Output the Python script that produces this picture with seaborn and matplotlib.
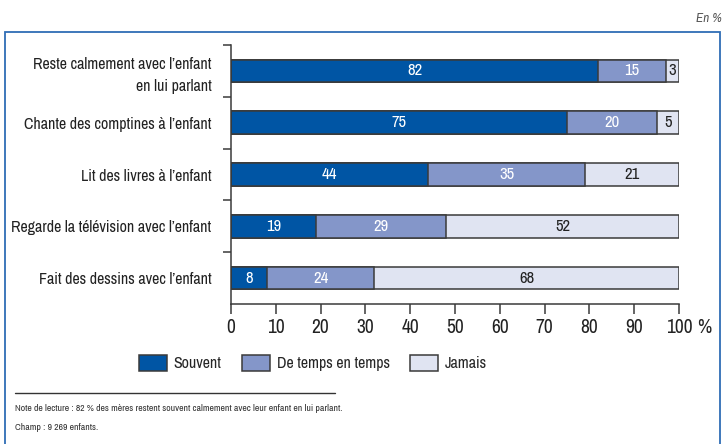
import matplotlib
matplotlib.use("Agg")
import matplotlib.pyplot as plt
from matplotlib import font_manager
import seaborn as sns
import pandas as pd
import numpy as np
from matplotlib.patches import Rectangle
from matplotlib.lines import Line2D

categories = ["Reste calmement avec l’enfant\nen lui parlant",
              "Chante des comptines à l’enfant",
              "Lit des livres à l’enfant",
              "Regarde la télévision avec l’enfant",
              "Fait des dessins avec l’enfant"]
souvent = [82, 75, 44, 19, 8]
de_temps = [15, 20, 35, 29, 24]
jamais = [3, 5, 21, 52, 68]
series_names = ["Souvent", "De temps en temps", "Jamais"]
colors = ["#0055a4", "#8496c9", "#e0e4f2"]
text_colors = ["white", "white", "#222222"]
xticks = [0, 10, 20, 30, 40, 50, 60, 70, 80, 90, 100]

sns.set_theme(style="white")

# pick a narrow font if one exists
narrow_family = None
narrow_stretch = None
found = []
for f in font_manager.fontManager.ttflist:
    st = f.stretch
    if isinstance(st, str):
        is_cond = "condensed" in st
    else:
        is_cond = st < 500
    nm = f.name
    if ("Narrow" in nm or "Condensed" in nm) and f.style == "normal":
        found.append((0, nm, "normal"))
    elif is_cond and f.style == "normal" and f.weight in (400, "normal", "regular"):
        found.append((1, nm, st))
found.sort(key=lambda t: t[0])
if found:
    narrow_family = found[0][1]
    narrow_stretch = found[0][2]
if narrow_family:
    plt.rcParams['font.family'] = [narrow_family, 'DejaVu Sans']
    if narrow_stretch not in (None, "normal"):
        plt.rcParams['font.stretch'] = narrow_stretch
    scale = 1.0
else:
    plt.rcParams['font.family'] = ['DejaVu Sans']
    scale = 0.82
fs = lambda x: x * scale

fig = plt.figure(figsize=(7.27, 4.44), dpi=100)
ax = fig.add_axes([231/727, 1-304/444, (679-231)/727, (304-45)/444])

df = pd.DataFrame({"cat": categories, "Souvent": souvent,
                   "De temps en temps": de_temps, "Jamais": jamais})
df["c1"] = df["Souvent"]
df["c2"] = df["Souvent"] + df["De temps en temps"]
df["c3"] = df["c2"] + df["Jamais"]

edge = "#3a3a3a"
for col, color in zip(["c3", "c2", "c1"], colors[::-1]):
    sns.barplot(data=df, x=col, y="cat", order=categories, color=color,
                orient="h", width=0.44, edgecolor=edge, linewidth=1.1,
                saturation=1, ax=ax)

starts = [np.zeros(5), np.array(souvent), np.array(souvent) + np.array(de_temps)]
vals = [souvent, de_temps, jamais]
for s, v, tc in zip(starts, vals, text_colors):
    for i in range(5):
        ax.text(s[i] + v[i] / 2, i, str(v[i]), ha="center", va="center",
                color=tc, fontsize=fs(12))

ax.set_xlim(0, 100)
ax.set_ylim(4.5, -0.5)
ax.set_xlabel("")
ax.set_ylabel("")
ax.set_xticks(xticks)
ax.set_xticklabels([str(t) for t in xticks], fontsize=fs(14), color="#222222")
ax.tick_params(axis="x", direction="out", length=7, width=1.1, color=edge, pad=3, bottom=True)
ax.set_yticks([-0.5, 0.5, 1.5, 2.5, 3.5])
ax.set_yticklabels([])
ax.set_yticks(range(5), minor=True)
ax.set_yticklabels(categories, minor=True, fontsize=fs(11.5), color="#222222")
ax.tick_params(axis="y", which="major", direction="out", length=6, width=1.1, color=edge, left=True)
ax.tick_params(axis="y", which="minor", length=0, pad=14)
for lab in ax.get_yticklabels(minor=True):
    lab.set_multialignment("right")
    lab.set_linespacing(1.55)
for sp in ["top", "right"]:
    ax.spines[sp].set_visible(False)
for sp in ["left", "bottom"]:
    ax.spines[sp].set_color(edge)
    ax.spines[sp].set_linewidth(1.1)
ax.grid(False)
ax.annotate("%", xy=(100, 0), xycoords=("data", "axes fraction"),
            xytext=(13, -10), textcoords="offset points", ha="left", va="top",
            fontsize=fs(14), color="#222222")

handles = [Rectangle((0, 0), 1, 1, facecolor=c, edgecolor=edge, linewidth=1.1) for c in colors]
fig.legend(handles, series_names, loc="center", bbox_to_anchor=(313/727, 1-363/444),
           ncol=3, frameon=False, fontsize=fs(11.5), handlelength=1.75, handleheight=1.25,
           handletextpad=0.4, columnspacing=1.3)

fig.patches.append(Rectangle((5/727, -0.05), 715/727, 1.05-32/444, transform=fig.transFigure,
                             fill=False, edgecolor="#2f6db5", linewidth=1.3))
fig.lines.append(Line2D([15/727, 335/727], [1-393/444, 1-393/444], transform=fig.transFigure,
                        color="#333333", linewidth=1.0))
fig.text(722/727, 1-18/444, "En %", ha="right", va="center", fontsize=fs(9.5),
         style="italic", color="#555555")
fig.text(15/727, 1-408/444, "Note de lecture : 82 % des mères restent souvent calmement avec leur enfant en lui parlant.",
         ha="left", va="center", fontsize=fs(7), color="#333333")
fig.text(15/727, 1-427/444, "Champ : 9 269 enfants.", ha="left", va="center",
         fontsize=fs(7), color="#333333")

fig.savefig("out.png", dpi=100)
